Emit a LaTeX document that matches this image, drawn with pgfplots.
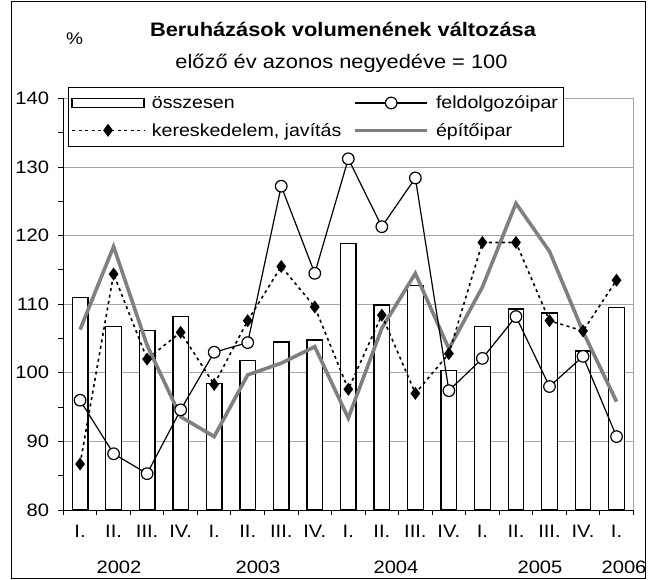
\documentclass[border=0pt]{standalone}
\usepackage{fontspec}
\setmainfont{Liberation Sans}[FakeStretch=1.12]
\usepackage{pgfplots}
\pgfplotsset{compat=1.18}
\definecolor{GridGray}{HTML}{A6A6A6}
\definecolor{BuildGray}{HTML}{808080}
\pgfplotsset{
  linelegend/.style={legend image code/.code={%
    \draw[mark repeat=2,mark phase=2,##1] plot coordinates {(0pt,0pt) (36pt,0pt) (72pt,0pt)};}},
  barlegend/.style={legend image code/.code={%
    \draw[draw=black,fill=white,line width=1.2pt] (0pt,-4.5pt) rectangle (72pt,4.5pt);}}
}

\begin{document}
\begin{tikzpicture}[x=1pt,y=1pt]
\useasboundingbox (0,0) rectangle (648,579);
\draw[line width=1pt] (11,1) rectangle (645,577);
\node[anchor=base, font=\fontsize{19.5}{22}\selectfont\bfseries] at (343,542.3) {Beruházások volumenének változása};
\node[anchor=base, font=\fontsize{19.5}{22}\selectfont] at (341.5,510) {előző év azonos negyedéve = 100};
\node[anchor=base west, inner sep=0pt, font=\fontsize{17}{20}\selectfont] at (66,534) {\%};

\begin{axis}[
  at={(63.3pt,69pt)}, anchor=south west,
  scale only axis, width=570pt, height=411.6pt,
  xmin=-0.5, xmax=16.5, ymin=80, ymax=140,
  axis x line*=bottom, axis y line*=left,
  axis line style={black, line width=0.9pt},
  xtick={-0.5,0.5,...,16.5},
  x tick label as interval,
  xticklabels={I.,II.,III.,IV.,I.,II.,III.,IV.,I.,II.,III.,IV.,I.,II.,III.,IV.,I.},
  ytick={80,90,...,140},
  minor ytick={85,95,...,135},
  tick align=outside,
  major tick length=5pt, minor tick length=5pt,
  tick style={black, line width=0.9pt},
  ymajorgrids, grid style={GridGray, line width=0.9pt},
  /pgf/number format/assume math mode=true,
  tick label style={font=\fontsize{18}{20}\selectfont},
  yticklabel style={anchor=east, inner sep=0pt, xshift=-9pt},
  xticklabel style={anchor=base, inner sep=0pt, yshift=-22pt},
  legend columns=2,
  legend cell align=left,
  legend style={at={(0.008,1.028)}, anchor=north west,
    draw=black, line width=0.8pt, fill=white,
    font=\fontsize{17.5}{20}\selectfont,
    inner xsep=3pt, inner ysep=6.5pt, row sep=9pt,
    nodes={inner sep=2pt},
    /tikz/every odd column/.append style={column sep=5pt},
    /tikz/every even column/.append style={column sep=10pt}},
  clip=false,
]
\addplot[ybar, bar width=15.6pt, bar shift=0pt, draw=black, fill=white, line width=1.3pt, barlegend]
  coordinates {(0,111.0) (1,106.7) (2,106.2) (3,108.2) (4,98.4) (5,101.8) (6,104.5) (7,104.8)
    (8,118.8) (9,109.9) (10,112.7) (11,100.3) (12,106.7) (13,109.3) (14,108.7) (15,103.2) (16,109.5)};
\addlegendentry{összesen}
\addplot[BuildGray, line width=3.6pt, no marks, linelegend, forget plot]
  coordinates {(0,106.3) (1,118.4) (2,104.0) (3,93.6) (4,90.7) (5,99.7) (6,101.4) (7,103.8)
    (8,93.4) (9,106.5) (10,114.5) (11,103.5) (12,112.5) (13,124.7) (14,117.7) (15,106.0) (16,95.8)};
\addplot[black, line width=1.2pt, mark=*, mark size=5.8pt,
  mark options={fill=white, draw=black, solid, line width=1.2pt}, linelegend]
  coordinates {(0,96.0) (1,88.2) (2,85.3) (3,94.6) (4,103.0) (5,104.4) (6,127.2) (7,114.5)
    (8,131.2) (9,121.3) (10,128.4) (11,97.4) (12,102.1) (13,108.2) (14,98.0) (15,102.4) (16,90.7)};
\addlegendentry{feldolgozóipar\hspace{60pt}}
\addplot[black, line width=1.6pt, dash pattern=on 3pt off 3.5pt, mark=diamond*, mark size=5.2pt,
  mark options={fill=black, solid}, linelegend]
  coordinates {(0,86.7) (1,114.4) (2,102.0) (3,105.9) (4,98.3) (5,107.6) (6,115.5) (7,109.6)
    (8,97.6) (9,108.4) (10,97.0) (11,102.8) (12,119.0) (13,119.0) (14,107.6) (15,106.1) (16,113.5)};
\addlegendentry{kereskedelem, javítás}
\addlegendimage{BuildGray, line width=3.6pt, no marks, linelegend}
\addlegendentry{építőipar}
\draw[GridGray, line width=0.9pt] (rel axis cs:1,0) -- (rel axis cs:1,1);
\end{axis}

\node[anchor=base, font=\fontsize{18}{20}\selectfont] at (119,6) {2002};
\node[anchor=base, font=\fontsize{18}{20}\selectfont] at (258,6) {2003};
\node[anchor=base, font=\fontsize{18}{20}\selectfont] at (396,6) {2004};
\node[anchor=base, font=\fontsize{18}{20}\selectfont] at (540,6) {2005};
\node[anchor=base, font=\fontsize{18}{20}\selectfont] at (624,6) {2006};
\end{tikzpicture}
\end{document}
